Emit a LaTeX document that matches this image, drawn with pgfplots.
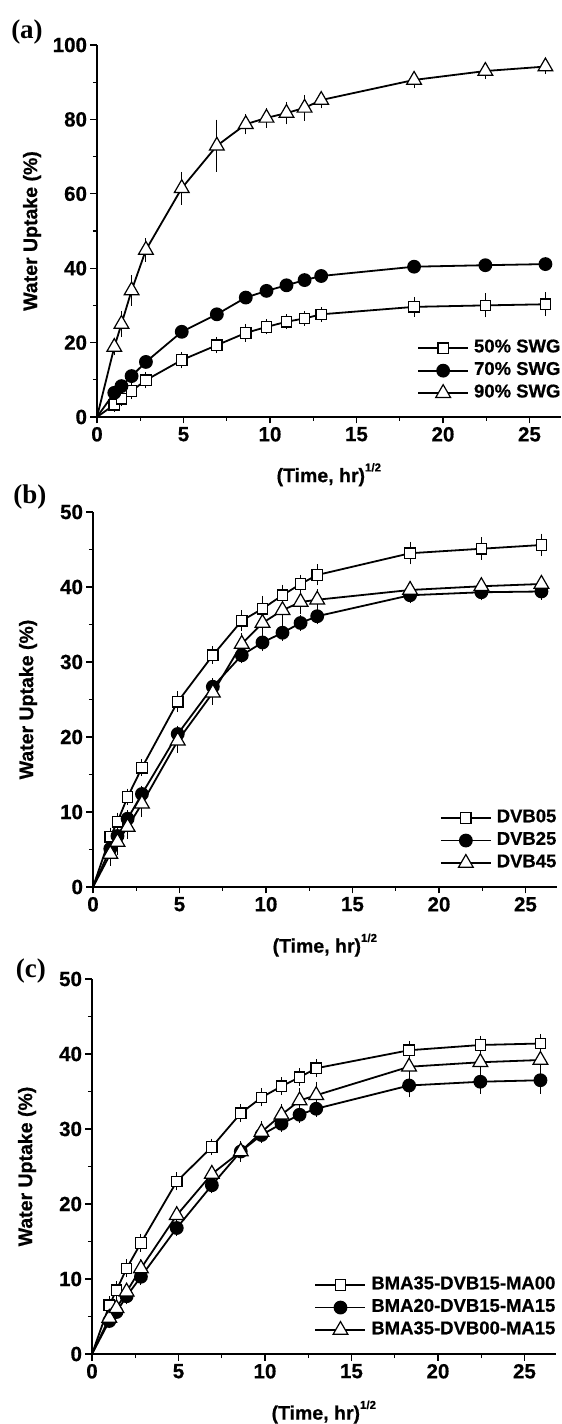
\documentclass[border=0pt]{standalone}
\usepackage{fontspec}
\setmainfont{Liberation Sans}[BoldFeatures={FakeBold=0.6}]
\newfontfamily\serifb{Liberation Serif}
\usepackage{pgfplots}
\usepackage{pgfplotstable}
\pgfplotsset{compat=1.18}

\pgfplotstableread{
x a ea b eb c ec
0 0 0 0 0 0 0
1 3.3 0.8 6.5 0.4 18.8 1.0
1.414 4.9 0.8 8.3 0.4 25.0 2.3
2 7.0 1.0 11.0 0.5 34.0 2.9
2.828 9.9 1.0 14.8 0.5 44.9 1.9
4.899 15.3 1.0 22.9 0.5 61.5 3.2
6.928 19.3 1.0 27.6 0.5 72.9 5.8
8.6 22.6 1.2 32.1 0.5 78.7 1.5
9.798 24.2 0.8 33.9 0.5 80.4 1.5
10.954 25.6 0.8 35.4 0.5 81.7 1.8
12 26.5 0.8 36.8 0.5 83.1 2.3
12.961 27.6 0.8 37.9 0.5 85.2 1.0
18.33 29.6 1.5 40.4 0.5 90.6 1.0
22.45 30.0 2.0 40.8 0.5 93.0 1.0
25.923 30.3 2.0 41.1 0.5 94.2 0.8
}\dataA

\pgfplotstableread{
x a ea b eb c ec
0 0 0 0 0 0 0
1 6.7 0.6 5.1 0.4 4.4 1.0
1.414 8.7 0.6 6.8 0.4 6.0 1.2
2 12.0 0.5 9.1 0.5 8.0 1.0
2.828 15.9 0.5 12.4 0.5 11.1 1.2
4.899 24.7 0.8 20.4 0.5 19.5 1.0
6.928 30.9 0.6 26.7 0.5 25.9 1.0
8.6 35.5 0.8 30.9 0.5 32.4 0.8
9.798 37.1 1.1 32.6 0.5 35.2 1.3
10.954 38.9 0.8 33.9 0.5 36.9 1.3
12 40.4 0.6 35.2 0.5 38.0 1.0
12.961 41.6 0.8 36.1 0.5 38.3 0.8
18.33 44.5 0.9 38.9 0.5 39.6 0.6
22.45 45.1 0.9 39.3 0.5 40.1 0.6
25.923 45.6 0.9 39.4 0.5 40.4 0.6
}\dataB

\pgfplotstableread{
x a ea b eb c ec
0 0 0 0 0 0 0
1 6.5 0.6 4.4 0.4 4.8 0.6
1.414 8.5 0.6 5.6 0.4 6.1 0.6
2 11.4 0.6 7.7 0.5 8.3 0.6
2.828 14.8 0.6 10.3 0.5 11.4 0.6
4.899 23.0 0.6 16.8 0.5 18.5 0.6
6.928 27.6 0.5 22.5 0.5 24.0 0.6
8.6 32.1 0.6 27.0 0.5 27.0 0.8
9.798 34.2 0.6 29.2 0.5 29.6 0.8
10.954 35.7 0.6 30.7 0.5 31.9 0.8
12 36.9 0.6 31.9 0.5 33.8 1.0
12.961 38.1 0.6 32.7 0.5 34.5 1.2
18.33 40.5 0.6 35.8 1.0 38.3 0.8
22.45 41.2 0.6 36.3 1.0 38.9 0.8
25.923 41.4 0.6 36.5 1.2 39.2 1.2
}\dataC

\pgfplotsset{
  wu/.style={
    scale only axis, width=463.6pt, xmin=0, xmax=26.8, ymin=0,
    axis x line=bottom, axis y line=left,
    axis line style={-, line width=1.5pt},
    tick align=outside, major tick length=6.5pt, minor tick length=4pt,
    every tick/.style={line width=1.2pt, black},
    xtick={0,5,...,25}, minor x tick num=1, minor y tick num=1,
    /pgf/number format/assume math mode=true,
    tick label style={font=\fontsize{20.5}{22}\selectfont\bfseries},
    xlabel={(Time, hr)\raisebox{0.55em}{\fontsize{11.5}{11.5}\selectfont 1/2}},
    ylabel={Water Uptake (\%)},
    xlabel style={font=\fontsize{19.5}{21}\selectfont\bfseries, at={(axis description cs:0.5,-0.155)}, anchor=center},
    ylabel style={font=\fontsize{19.5}{21}\selectfont\bfseries, at={(axis description cs:-0.14,0.5)}, anchor=center},
    clip=false,
    legend style={draw=none, fill=none, at={(axis description cs:1,0.04)}, anchor=south east,
      font=\fontsize{18.5}{20}\selectfont\bfseries, row sep=5pt, column sep=5pt, inner sep=0pt,
      nodes={inner sep=0pt, text height=13pt, text depth=4.5pt}},
    legend cell align=left,
    legend image code/.code={\draw[#1,mark repeat=2,mark phase=2] plot coordinates {(0pt,0pt) (25pt,0pt) (50pt,0pt)};},
    error bars/y dir=both, error bars/y explicit,
    error bars/error mark options={line width=1pt, mark size=4.5pt, black},
    error bars/error bar style={line width=1pt, black},
  },
  sq/.style={black, line width=1.8pt, mark=square*, mark size=5.2pt, mark options={fill=white, line width=1.2pt}, mark phase=2, mark repeat=1},
  ci/.style={black, line width=1.8pt, mark=*, mark size=6pt, mark options={fill=black}, mark phase=2, mark repeat=1},
  tr/.style={black, line width=1.8pt, mark=triangle*, mark size=8.5pt, mark options={fill=white, line width=1.2pt}, mark phase=2, mark repeat=1},
}

\begin{document}
\begin{tikzpicture}
\useasboundingbox (0,0) rectangle (562pt,1424pt);

\begin{axis}[wu, at={(97pt,1007pt)}, anchor=south west, height=372pt, ymax=100, ytick={0,20,...,100}]
\addplot[sq] table[x=x, y=a, y error=ea] {\dataA};
\addlegendentry{50\% SWG}
\addplot[ci] table[x=x, y=b, y error=eb] {\dataA};
\addlegendentry{70\% SWG}
\addplot[tr] table[x=x, y=c, y error=ec] {\dataA};
\addlegendentry{90\% SWG}
\node[font=\serifb\bfseries\fontsize{27}{27}\selectfont] at (rel axis cs:-0.151,1.035) {(a)};
\end{axis}

\begin{axis}[wu, at={(93pt,537pt)}, anchor=south west, height=375pt, ymax=50, ytick={0,10,...,50}]
\addplot[sq] table[x=x, y=a, y error=ea] {\dataB};
\addlegendentry{DVB05}
\addplot[ci] table[x=x, y=b, y error=eb] {\dataB};
\addlegendentry{DVB25}
\addplot[tr] table[x=x, y=c, y error=ec] {\dataB};
\addlegendentry{DVB45}
\node[font=\serifb\bfseries\fontsize{27}{27}\selectfont] at (rel axis cs:-0.136,1.04) {(b)};
\end{axis}

\begin{axis}[wu, at={(92pt,70pt)}, anchor=south west, height=375pt, ymax=50, ytick={0,10,...,50}]
\addplot[sq] table[x=x, y=a, y error=ea] {\dataC};
\addlegendentry{BMA35-DVB15-MA00}
\addplot[ci] table[x=x, y=b, y error=eb] {\dataC};
\addlegendentry{BMA20-DVB15-MA15}
\addplot[tr] table[x=x, y=c, y error=ec] {\dataC};
\addlegendentry{BMA35-DVB00-MA15}
\node[font=\serifb\bfseries\fontsize{27}{27}\selectfont] at (rel axis cs:-0.132,1.021) {(c)};
\end{axis}
\end{tikzpicture}
\end{document}
